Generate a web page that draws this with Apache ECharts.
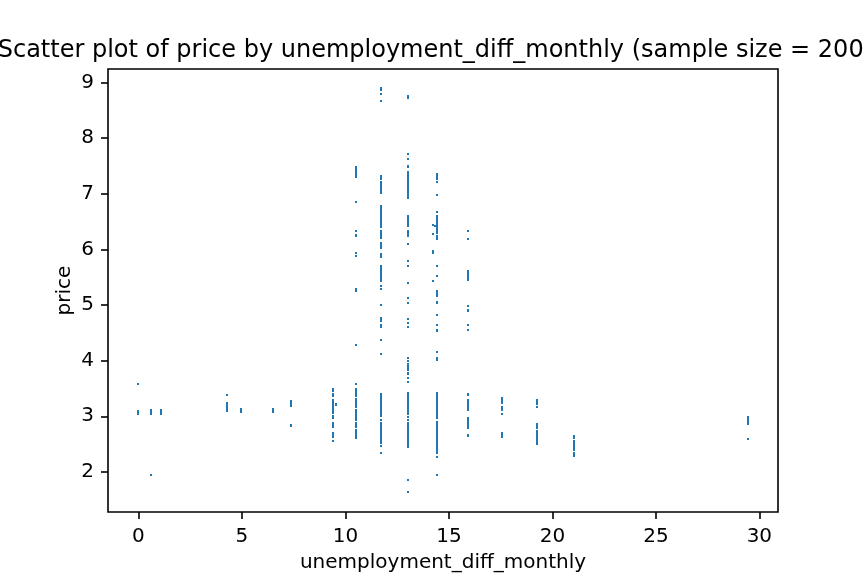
<!DOCTYPE html>
<html>
<head>
<meta charset="utf-8">
<script src="https://cdn.jsdelivr.net/npm/echarts@6/dist/echarts.min.js"></script>
<style>
html,body{margin:0;padding:0;background:#fff;}
#chart{width:864px;height:576px;}
</style>
</head>
<body>
<div id="chart"></div>
<script>
// Tick labels
const xTicks = [0, 5, 10, 15, 20, 25, 30];
const yTicks = [2, 3, 4, 5, 6, 7, 8, 9];

// Scatter points. Dense overlapping points form vertical runs,
// stored as [unemployment_diff_monthly, price_low, price_high]; single points have low≈high.
const col_0_0 = [[0.0, 3.57, 3.60], [0.0, 3.03, 3.12]];
const col_0_6 = [[0.63, 3.03, 3.13], [0.63, 1.93, 1.96]];
const col_1_1 = [[1.11, 3.03, 3.13]];
const col_4_3 = [[4.29, 3.37, 3.40], [4.29, 3.08, 3.26]];
const col_5_0 = [[4.97, 3.06, 3.15]];
const col_6_5 = [[6.51, 3.06, 3.15]];
const col_7_4 = [[7.38, 3.17, 3.29], [7.38, 2.81, 2.86]];
const col_9_4 = [[9.40, 3.44, 3.51], [9.40, 3.35, 3.42], [9.40, 3.04, 3.31], [9.40, 2.95, 3.03],
  [9.40, 2.79, 2.90], [9.40, 2.61, 2.72], [9.40, 2.54, 2.58], [9.55, 3.19, 3.24]];
const col_10_5 = [[10.52, 7.27, 7.49], [10.52, 6.82, 6.86], [10.52, 6.30, 6.34], [10.52, 6.23, 6.28],
  [10.52, 5.92, 5.96], [10.52, 5.85, 5.89], [10.52, 5.24, 5.31], [10.52, 4.25, 4.29],
  [10.52, 3.57, 3.60], [10.52, 3.35, 3.51], [10.52, 3.15, 3.33], [10.52, 2.92, 3.13],
  [10.52, 2.79, 2.90], [10.52, 2.59, 2.77]];
const col_11_7 = [[11.74, 8.84, 8.91], [11.74, 8.77, 8.80], [11.74, 8.66, 8.69], [11.74, 7.24, 7.33],
  [11.74, 6.98, 7.22], [11.74, 6.37, 6.79], [11.74, 6.19, 6.35], [11.74, 6.01, 6.14],
  [11.74, 5.85, 5.94], [11.74, 5.45, 5.72], [11.74, 5.40, 5.44], [11.74, 5.33, 5.36],
  [11.74, 5.27, 5.31], [11.74, 4.99, 5.02], [11.74, 4.75, 4.79], [11.74, 4.68, 4.74],
  [11.74, 4.59, 4.66], [11.74, 4.36, 4.39], [11.74, 4.11, 4.14], [11.74, 2.99, 3.42],
  [11.74, 2.92, 2.95], [11.74, 2.50, 2.90], [11.74, 2.45, 2.49], [11.74, 2.32, 2.36]];
const col_13_0 = [[13.03, 8.71, 8.78], [13.03, 7.69, 7.73], [13.03, 7.60, 7.64], [13.03, 7.45, 7.51],
  [13.03, 6.89, 7.40], [13.03, 6.39, 6.61], [13.03, 6.21, 6.34], [13.03, 6.08, 6.12],
  [13.03, 5.78, 5.81], [13.03, 5.69, 5.72], [13.03, 5.38, 5.42], [13.03, 5.11, 5.15],
  [13.03, 5.02, 5.06], [13.03, 4.74, 4.77], [13.03, 4.66, 4.70], [13.03, 4.59, 4.63],
  [13.03, 4.03, 4.07], [13.03, 3.98, 4.02], [13.03, 3.82, 3.96], [13.03, 3.75, 3.80],
  [13.03, 3.67, 3.71], [13.03, 3.60, 3.64], [13.03, 3.03, 3.44], [13.03, 2.97, 3.01],
  [13.03, 2.92, 2.95], [13.03, 2.43, 2.90], [13.03, 1.84, 1.87], [13.03, 1.62, 1.66]];
const col_14_2 = [[14.22, 6.43, 6.46], [14.22, 6.26, 6.30], [14.22, 5.90, 5.98], [14.22, 5.40, 5.44],
  [14.35, 6.41, 6.44]];
const col_14_4 = [[14.44, 7.34, 7.38], [14.44, 7.24, 7.33], [14.44, 7.18, 7.22], [14.44, 6.97, 7.00],
  [14.44, 6.64, 6.68], [14.44, 6.28, 6.62], [14.44, 6.16, 6.25], [14.44, 5.69, 5.72],
  [14.44, 5.49, 5.53], [14.44, 5.15, 5.27], [14.44, 5.02, 5.08], [14.44, 4.79, 4.83],
  [14.44, 4.61, 4.65], [14.44, 4.52, 4.57], [14.44, 4.14, 4.18], [14.44, 3.99, 4.07],
  [14.44, 2.95, 3.44], [14.44, 2.32, 2.92], [14.44, 2.25, 2.29], [14.44, 1.93, 1.96]];
const col_15_9 = [[15.94, 6.30, 6.34], [15.94, 6.17, 6.21], [15.94, 5.42, 5.62], [15.94, 4.97, 5.00],
  [15.94, 4.86, 4.92], [15.94, 4.61, 4.65], [15.94, 4.54, 4.57], [15.94, 3.37, 3.42],
  [15.94, 3.10, 3.31], [15.94, 2.77, 2.99], [15.94, 2.63, 2.68]];
const col_17_5 = [[17.55, 3.22, 3.35], [17.55, 3.10, 3.19], [17.55, 3.03, 3.06], [17.55, 2.61, 2.72]];
const col_19_2 = [[19.24, 3.20, 3.31], [19.24, 3.15, 3.19], [19.24, 2.77, 2.88], [19.24, 2.49, 2.76]];
const col_21_0 = [[21.03, 2.59, 2.67], [21.03, 2.38, 2.58], [21.03, 2.27, 2.36]];
const col_29_4 = [[29.45, 2.83, 3.00], [29.45, 2.58, 2.61]];

const points = [].concat(col_0_0, col_0_6, col_1_1, col_4_3, col_5_0, col_6_5, col_7_4,
  col_9_4, col_10_5, col_11_7, col_13_0, col_14_2, col_14_4, col_15_9, col_17_5,
  col_19_2, col_21_0, col_29_4);

const FONT = 'DejaVu Sans';
const chart = echarts.init(document.getElementById('chart'), null, {renderer: 'canvas'});

chart.setOption({
  animation: false,
  backgroundColor: '#ffffff',
  grid: {left: 108, right: 86, top: 69, bottom: 64, show: true, containLabel: false,
    outerBoundsMode: 'none',
    borderColor: '#000', borderWidth: 1.6, backgroundColor: 'transparent'},
  graphic: [{
    type: 'text', x: 443, y: 63, silent: true,
    style: {text: 'Scatter plot of price by unemployment_diff_monthly (sample size = 2000)',
      x: 0, y: 0, align: 'center', verticalAlign: 'bottom',
      font: '24px "DejaVu Sans"', fill: '#000'}
  }],
  xAxis: {
    type: 'value', min: -1.47, max: 30.9,
    name: 'unemployment_diff_monthly', nameLocation: 'middle', nameGap: 41,
    nameTextStyle: {fontFamily: FONT, fontSize: 20, color: '#000'},
    axisLine: {show: false, onZero: false},
    axisTick: {show: true, length: 7, lineStyle: {color: '#000', width: 1.6}, customValues: xTicks},
    axisLabel: {margin: 15, fontFamily: FONT, fontSize: 20, color: '#000', customValues: xTicks},
    splitLine: {show: false}
  },
  yAxis: {
    type: 'value', min: 1.28, max: 9.24,
    name: 'price', nameLocation: 'middle', nameGap: 33, nameMoveOverlap: false,
    nameTextStyle: {fontFamily: FONT, fontSize: 20, color: '#000'},
    axisLine: {show: false, onZero: false},
    axisTick: {show: true, length: 7, lineStyle: {color: '#000', width: 1.6}, customValues: yTicks},
    axisLabel: {margin: 14, fontFamily: FONT, fontSize: 20, color: '#000', customValues: yTicks},
    splitLine: {show: false}
  },
  series: [{
    type: 'custom',
    data: points,
    encode: {x: 0, y: [1, 2]},
    renderItem: function (params, api) {
      const x = api.value(0);
      const top = api.coord([x, api.value(2)]);
      const bot = api.coord([x, api.value(1)]);
      const h = Math.max(2, bot[1] - top[1]);
      return {
        type: 'rect',
        shape: {x: Math.round(top[0]) - 1, y: Math.round(top[1]), width: 2, height: Math.round(h)},
        style: {fill: '#1f77b4'}
      };
    }
  }]
});
</script>
</body>
</html>
